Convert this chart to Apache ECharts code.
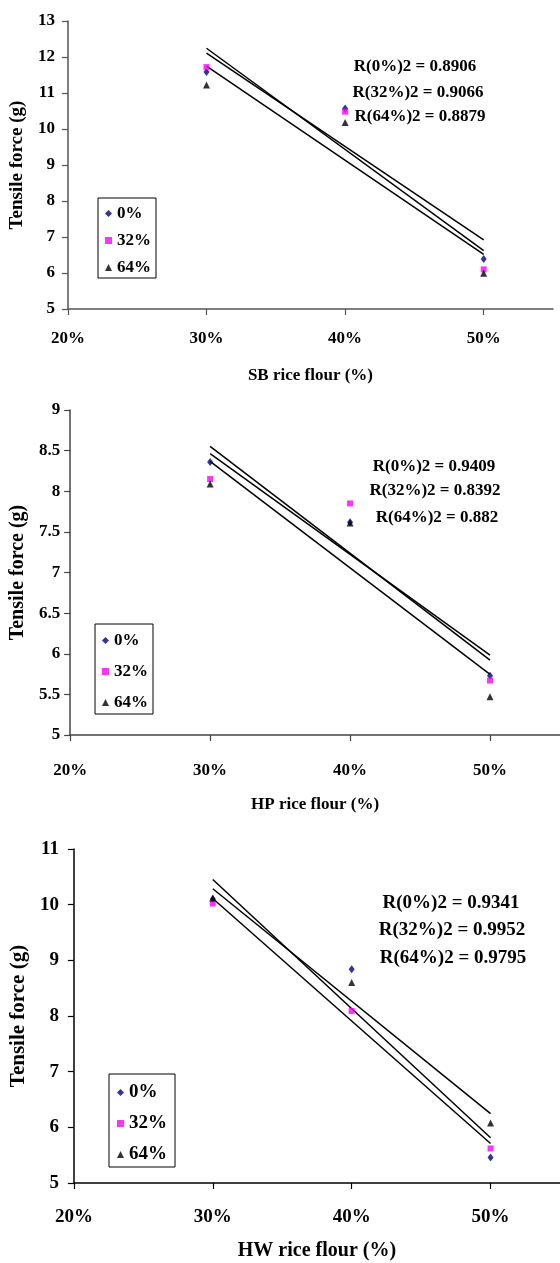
<!DOCTYPE html>
<html>
<head>
<meta charset="utf-8">
<script src="https://cdn.jsdelivr.net/npm/echarts@6/dist/echarts.min.js"></script>
<style>
  html, body { margin: 0; padding: 0; background: #fff; }
  #chart { width: 560px; height: 1263px; }
</style>
</head>
<body>
<div id="chart"></div>
<script>
// rice flour content on the x axis (%)
var flourPct = [30, 40, 50]
var groupNames = ['0%', '32%', '64%']

// tensile force (g)
var sb0 = [11.58, 10.57, 6.39]
var sb32 = [11.72, 10.48, 6.10]
var sb64 = [11.22, 10.18, 5.99]

var hp0 = [8.36, 7.62, 5.73]
var hp32 = [8.15, 7.85, 5.67]
var hp64 = [8.09, 7.61, 5.47]

var hw0 = [10.10, 8.84, 5.46]
var hw32 = [10.02, 8.09, 5.62]
var hw64 = [10.12, 8.60, 6.08]

var sbR2 = ['R(0%)2 = 0.8906', 'R(32%)2 = 0.9066', 'R(64%)2 = 0.8879']
var hpR2 = ['R(0%)2 = 0.9409', 'R(32%)2 = 0.8392', 'R(64%)2 = 0.882']
var hwR2 = ['R(0%)2 = 0.9341', 'R(32%)2 = 0.9952', 'R(64%)2 = 0.9795']

var xTicks = [20, 30, 40, 50]

var serif = "'Liberation Serif', 'Times New Roman', serif"
var symbols = ['diamond', 'rect', 'triangle']
var symbolSizes = [[6, 8], [6, 6], [7, 7]]
var colors = ['#000080', '#ff00ff', '#000000']

var panels = [
  {
    data: [sb0, sb32, sb64], r2: sbR2, title: 'SB rice flour (%)',
    grid: { left: 66, top: 21, width: 487, height: 288 },
    yMin: 5, yMax: 13, yStep: 1, font: 17, xNameFont: 17, yNameFont: 19, yNameGap: 34,
    xMargin: 21, xNameGap: 58, yMargin: 13, axisColor: '#555', r2Font: 17,
    legend: { left: 98, top: 198, gap: 10, padding: [7, 5, 2, 7] },
    r2Pos: [[415, 67], [418, 93], [420, 117]]
  },
  {
    data: [hp0, hp32, hp64], r2: hpR2, title: 'HP rice flour (%)',
    grid: { left: 69, top: 410, width: 495, height: 325 },
    yMin: 5, yMax: 9, yStep: 0.5, font: 17, xNameFont: 17, yNameFont: 20, yNameGap: 37,
    xMargin: 27, xNameGap: 61, yMargin: 10, axisColor: '#444', r2Font: 17,
    legend: { left: 95, top: 624, gap: 14, padding: [8, 5, 3, 7] },
    r2Pos: [[434, 467], [435, 491], [437, 518]]
  },
  {
    data: [hw0, hw32, hw64], r2: hwR2, title: 'HW rice flour (%)',
    grid: { left: 71, top: 849, width: 502, height: 334 },
    yMin: 5, yMax: 11, yStep: 1, font: 19, xNameFont: 20, yNameFont: 21, yNameGap: 41,
    xMargin: 25, xNameGap: 58, yMargin: 15, axisColor: '#000', r2Font: 19,
    legend: { left: 109, top: 1074, gap: 12, padding: [9, 8, 3, 8] },
    r2Pos: [[451, 903], [452, 930], [453, 958]]
  }
]

// least squares trend line, drawn from first to last x
function trend(xs, ys) {
  var n = xs.length
  var mx = 0, my = 0
  for (var i = 0; i < n; i++) { mx += xs[i] / n; my += ys[i] / n }
  var sxy = 0, sxx = 0
  for (var j = 0; j < n; j++) {
    sxy += (xs[j] - mx) * (ys[j] - my)
    sxx += (xs[j] - mx) * (xs[j] - mx)
  }
  var b = sxy / sxx
  var a = my - b * mx
  return [[xs[0], a + b * xs[0]], [xs[n - 1], a + b * xs[n - 1]]]
}

var option = {
  animation: false,
  backgroundColor: '#fff',
  grid: [],
  xAxis: [],
  yAxis: [],
  legend: [],
  series: [],
  graphic: []
}

panels.forEach(function(p, k) {
  var boldText = { fontFamily: serif, fontWeight: 'bold', color: '#000', fontSize: p.font }
  option.grid.push(p.grid)
  option.xAxis.push({
    gridIndex: k,
    type: 'value',
    min: 20,
    max: 55,
    interval: 10,
    name: p.title,
    nameLocation: 'middle',
    nameGap: p.xNameGap,
    nameTextStyle: Object.assign({}, boldText, { fontSize: p.xNameFont }),
    axisLine: { show: true, lineStyle: { color: p.axisColor, width: 1.5 } },
    axisTick: { show: true, length: 6, customValues: xTicks, lineStyle: { color: p.axisColor, width: 1.2 } },
    axisLabel: Object.assign({}, boldText, { margin: p.xMargin, formatter: '{value}%', customValues: xTicks }),
    splitLine: { show: false }
  })
  option.yAxis.push({
    gridIndex: k,
    type: 'value',
    min: p.yMin,
    max: p.yMax,
    interval: p.yStep,
    name: 'Tensile force (g)',
    nameLocation: 'middle',
    nameGap: p.yNameGap,
    nameTextStyle: Object.assign({}, boldText, { fontSize: p.yNameFont }),
    axisLine: { show: true, lineStyle: { color: p.axisColor, width: 1.5 } },
    axisTick: { show: true, length: 6, lineStyle: { color: p.axisColor, width: 1.2 } },
    axisLabel: Object.assign({}, boldText, { margin: p.yMargin }),
    splitLine: { show: false }
  })
  option.legend.push({
    orient: 'vertical',
    left: p.legend.left,
    top: p.legend.top,
    padding: p.legend.padding,
    itemGap: p.legend.gap,
    itemWidth: 7,
    itemHeight: 7,
    itemTextGap: 5,
    borderColor: '#000',
    borderWidth: 1,
    selectedMode: false,
    textStyle: boldText,
    data: groupNames.map(function(name, i) {
      return { name: name, icon: symbols[i], itemStyle: { color: colors[i] } }
    })
  })
  p.data.forEach(function(values, i) {
    // trend line under the points
    option.series.push({
      name: groupNames[i] + ' trend',
      type: 'line',
      xAxisIndex: k,
      yAxisIndex: k,
      showSymbol: false,
      symbol: 'none',
      silent: true,
      lineStyle: { color: '#000', width: 1.5 },
      data: trend(flourPct, values),
      z: 2
    })
    option.series.push({
      name: groupNames[i],
      type: 'scatter',
      xAxisIndex: k,
      yAxisIndex: k,
      symbol: symbols[i],
      symbolSize: symbolSizes[i],
      itemStyle: { color: colors[i] },
      data: flourPct.map(function(x, j) { return [x, values[j]] }),
      z: 3
    })
  })
  p.r2.forEach(function(txt, i) {
    option.graphic.push({
      type: 'text',
      x: p.r2Pos[i][0],
      y: p.r2Pos[i][1],
      style: {
        text: txt,
        fill: '#000',
        font: 'bold ' + p.r2Font + 'px ' + serif,
        textAlign: 'center',
        textVerticalAlign: 'middle'
      },
      z: 10
    })
  })
})

var myChart = echarts.init(document.getElementById('chart'))
myChart.setOption(option)
</script>
</body>
</html>
